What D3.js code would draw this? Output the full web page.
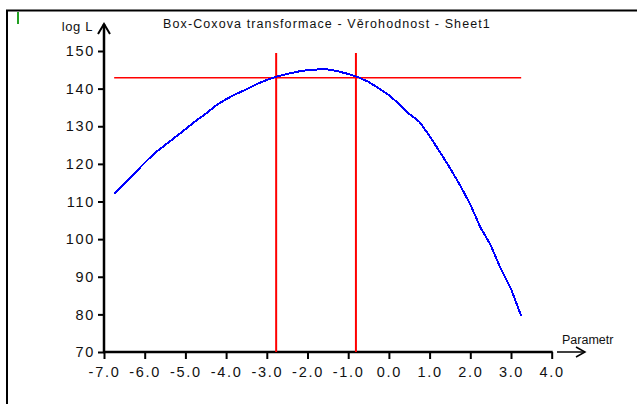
<!DOCTYPE html>
<html>
<head>
<meta charset="utf-8">
<script src="https://cdn.jsdelivr.net/npm/d3@7"></script>
<style>
  html, body { margin: 0; padding: 0; background: #fff; }
  svg { display: block; font-family: "Liberation Sans", Arial, sans-serif; }
</style>
</head>
<body>
<svg id="chart" width="637" height="404"></svg>
<script>
// Box-Cox profile log-likelihood over the transformation parameter
const lambda = [-6.75, -6.5, -6.25, -6.0, -5.75, -5.5, -5.25, -5.0, -4.75, -4.5,
                -4.25, -4.0, -3.75, -3.5, -3.25, -3.0, -2.75, -2.5, -2.25, -2.0,
                -1.75, -1.5, -1.25, -1.0, -0.75, -0.5, -0.25, 0.0, 0.25, 0.5,
                0.75, 1.0, 1.25, 1.5, 1.75, 2.0, 2.25, 2.5, 2.75, 3.0, 3.25];
const logL = [112.0, 114.8, 117.5, 120.3, 122.9, 125.0, 127.1, 129.2, 131.4, 133.3,
              135.5, 137.2, 138.6, 139.8, 141.2, 142.3, 143.2, 143.9, 144.5, 144.9,
              145.1, 145.1, 144.6, 143.9, 143.0, 141.8, 140.1, 138.3, 135.9, 133.3,
              131.2, 127.4, 123.2, 118.9, 114.3, 109.2, 103.1, 98.4, 92.1, 86.8, 79.6];

// confidence interval limits and the cut-off level of the likelihood
const ciLimits = [-2.77, -0.81];
const ciLevel = 142.9;
const ciTop = 149.5;

const xTicks = [-7, -6, -5, -4, -3, -2, -1, 0, 1, 2, 3, 4];
const yTicks = [70, 80, 90, 100, 110, 120, 130, 140, 150];

const title = "Box-Coxova transformace - Věrohodnost - Sheet1";
const xTitle = "Parametr";
const yTitle = "log L";

const svg = d3.select("#chart");

const x = d3.scaleLinear().domain([-7, 4]).range([104, 551.7]);
const y = d3.scaleLinear().domain([70, 150]).range([352, 51]);

// outer frame
svg.append("path")
  .attr("d", "M7,404 V10.5 H637")
  .attr("fill", "none").attr("stroke", "#000").attr("stroke-width", 2);
svg.append("line")
  .attr("x1", 18).attr("x2", 18).attr("y1", 12).attr("y2", 24)
  .attr("stroke", "#22a022").attr("stroke-width", 2);

// title
svg.append("text")
  .attr("x", 327).attr("y", 28)
  .attr("text-anchor", "middle")
  .attr("font-size", 12.5)
  .attr("letter-spacing", 1.1)
  .attr("fill", "#111")
  .text(title);

// y axis
const yAxis = svg.append("g")
  .attr("transform", `translate(${x(-7)},0)`)
  .call(d3.axisLeft(y).tickValues(yTicks).tickSize(6).tickPadding(3).tickFormat(d => String(d)));
yAxis.select(".domain").remove();
yAxis.selectAll(".tick line").attr("stroke", "#000").attr("stroke-width", 2);
yAxis.selectAll(".tick text")
  .attr("font-size", 14.5).attr("letter-spacing", 1.7).attr("fill", "#111")
  .attr("font-family", "Liberation Sans, Arial, sans-serif");
svg.append("line")
  .attr("x1", x(-7)).attr("x2", x(-7)).attr("y1", y(70) + 1).attr("y2", 24)
  .attr("stroke", "#000").attr("stroke-width", 2.5);
svg.append("path")
  .attr("d", `M${x(-7) - 6},34 L${x(-7)},24 L${x(-7) + 6},34`)
  .attr("fill", "none").attr("stroke", "#000").attr("stroke-width", 2);
svg.append("text")
  .attr("x", 93).attr("y", 31)
  .attr("text-anchor", "end")
  .attr("font-size", 13).attr("letter-spacing", 0.6).attr("fill", "#111")
  .text(yTitle);

// x axis
const xAxis = svg.append("g")
  .attr("transform", `translate(0,${y(70)})`)
  .call(d3.axisBottom(x).tickValues(xTicks).tickSize(7).tickPadding(8).tickFormat(d => d.toFixed(1)));
xAxis.select(".domain").remove();
xAxis.selectAll(".tick line").attr("stroke", "#000").attr("stroke-width", 2);
xAxis.selectAll(".tick text")
  .attr("font-size", 14.5).attr("letter-spacing", 1.7).attr("fill", "#111")
  .attr("font-family", "Liberation Sans, Arial, sans-serif");
svg.append("line")
  .attr("x1", x(-7) - 1).attr("x2", x(4) + 1).attr("y1", y(70)).attr("y2", y(70))
  .attr("stroke", "#000").attr("stroke-width", 2.5);
svg.append("line")
  .attr("x1", 557).attr("x2", 585).attr("y1", y(70)).attr("y2", y(70))
  .attr("stroke", "#000").attr("stroke-width", 1.5);
svg.append("path")
  .attr("d", `M576,${y(70) - 5} L585,${y(70)} L576,${y(70) + 5}`)
  .attr("fill", "none").attr("stroke", "#000").attr("stroke-width", 1.5);
svg.append("text")
  .attr("x", 562).attr("y", 344)
  .attr("font-size", 12.5).attr("fill", "#111")
  .text(xTitle);

// confidence interval guides
const red = "#ff0000";
svg.append("line")
  .attr("x1", x(lambda[0])).attr("x2", x(lambda[lambda.length - 1]))
  .attr("y1", y(ciLevel)).attr("y2", y(ciLevel))
  .attr("stroke", red).attr("stroke-width", 1.5);
svg.selectAll(".ci").data(ciLimits).enter().append("line")
  .attr("class", "ci")
  .attr("x1", d => x(d)).attr("x2", d => x(d))
  .attr("y1", y(ciTop)).attr("y2", y(70))
  .attr("stroke", red).attr("stroke-width", 2);

// likelihood curve
const pts = lambda.map((l, i) => [l, logL[i]]);
svg.append("path")
  .datum(pts)
  .attr("fill", "none")
  .attr("stroke", "#0000ff")
  .attr("stroke-width", 2)
  .attr("shape-rendering", "crispEdges")
  .attr("d", d3.line().x(d => x(d[0])).y(d => y(d[1])));
</script>
</body>
</html>
